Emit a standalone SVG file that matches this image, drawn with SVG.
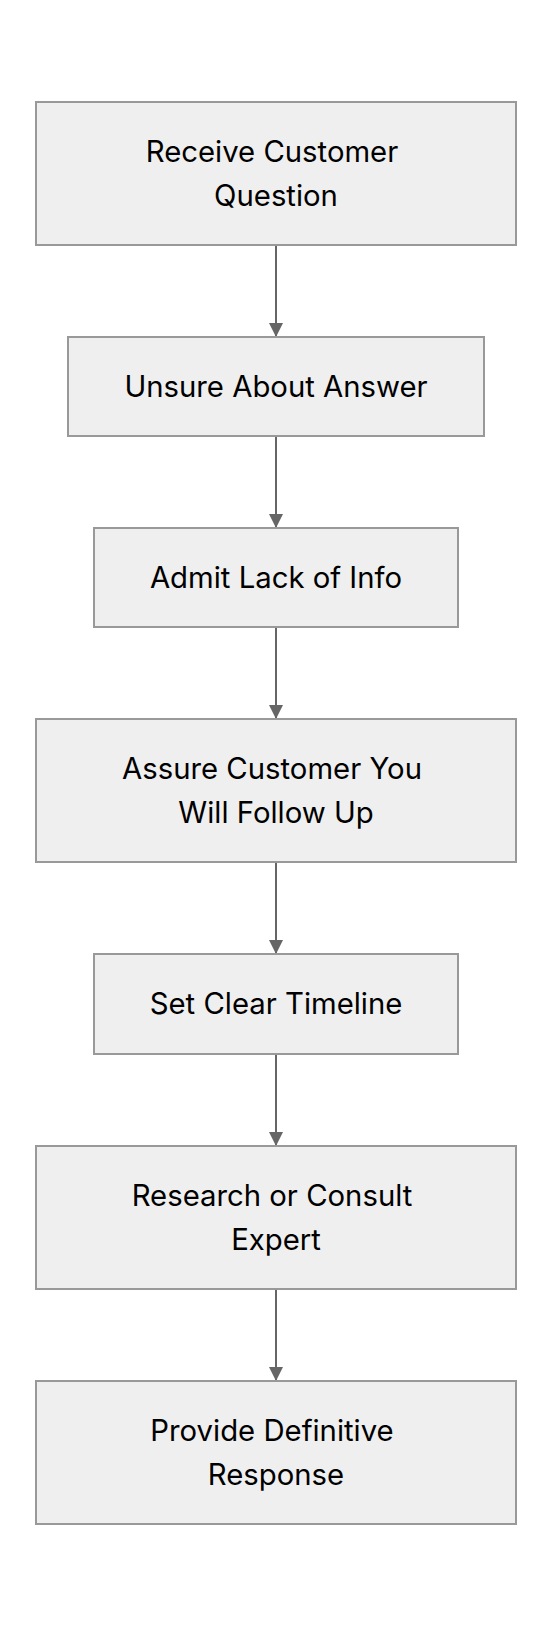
<svg xmlns="http://www.w3.org/2000/svg" width="552" height="1628" viewBox="0 0 552 1628">
<style>
.node rect{fill:#efefef;stroke:#999;stroke-width:2}
.node text{font-family:Inter,"Noto Sans","Liberation Sans",sans-serif;font-size:29.3px;fill:#000;text-anchor:middle}
.edge{stroke:#666;stroke-width:2;fill:none}
</style>
<defs>
<marker id="arr" markerWidth="14" markerHeight="14" refX="14" refY="7" orient="auto" markerUnits="userSpaceOnUse">
<path d="M0,0 L14,7 L0,14 Z" fill="#666"/>
</marker>
</defs>
<rect width="552" height="1628" fill="#fff"/>
<g id="edges">
<line class="edge" x1="276" y1="245" x2="276" y2="337" marker-end="url(#arr)"/>
<line class="edge" x1="276" y1="436" x2="276" y2="528" marker-end="url(#arr)"/>
<line class="edge" x1="276" y1="627" x2="276" y2="719" marker-end="url(#arr)"/>
<line class="edge" x1="276" y1="862" x2="276" y2="954" marker-end="url(#arr)"/>
<line class="edge" x1="276" y1="1054" x2="276" y2="1146" marker-end="url(#arr)"/>
<line class="edge" x1="276" y1="1289" x2="276" y2="1381" marker-end="url(#arr)"/>
</g>
<g id="n1" class="node">
<rect x="36" y="102" width="480" height="143"/>
<text x="272" y="162">Receive Customer</text>
<text x="276" y="205.5">Question</text>
</g>
<g id="n2" class="node">
<rect x="68" y="337" width="416" height="99"/>
<text x="276" y="396.5">Unsure About Answer</text>
</g>
<g id="n3" class="node">
<rect x="94" y="528" width="364" height="99"/>
<text x="276" y="587.5">Admit Lack of Info</text>
</g>
<g id="n4" class="node">
<rect x="36" y="719" width="480" height="143"/>
<text x="272" y="779">Assure Customer You</text>
<text x="276" y="822.5">Will Follow Up</text>
</g>
<g id="n5" class="node">
<rect x="94" y="954" width="364" height="100"/>
<text x="276" y="1014">Set Clear Timeline</text>
</g>
<g id="n6" class="node">
<rect x="36" y="1146" width="480" height="143"/>
<text x="272" y="1206">Research or Consult</text>
<text x="276" y="1249.5">Expert</text>
</g>
<g id="n7" class="node">
<rect x="36" y="1381" width="480" height="143"/>
<text x="272" y="1441">Provide Definitive</text>
<text x="276" y="1484.5">Response</text>
</g>
</svg>
